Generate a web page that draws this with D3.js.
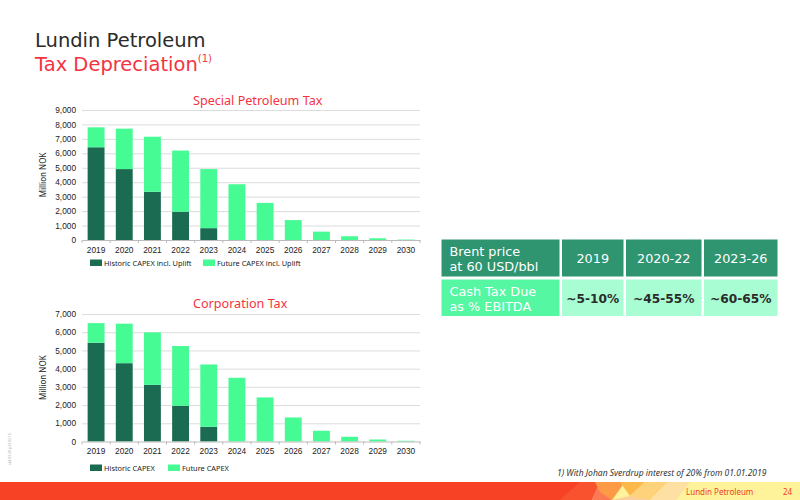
<!DOCTYPE html>
<html>
<head>
<meta charset="utf-8">
<script src="https://cdn.jsdelivr.net/npm/d3@7"></script>
<style>
  body { margin: 0; background: #fff; }
  svg { display: block; font-family: "Noto Sans", sans-serif; }
  .grid line { stroke: #dcdcdc; }
  .tick text { fill: #222; }
</style>
</head>
<body>
<div id="chart"></div>
<script>
// years on the x axis
var years = ['2019','2020','2021','2022','2023','2024','2025','2026','2027','2028','2029','2030'];

// Special Petroleum Tax, million NOK
var sptHistoric = [6420, 4910, 3340, 1960, 820, 0, 0, 0, 0, 0, 0, 0];
var sptFuture   = [1380, 2800, 3810, 4230, 4090, 3860, 2570, 1380, 580, 260, 120, 30];

// Corporation Tax, million NOK
var ctHistoric = [5420, 4300, 3110, 1960, 810, 0, 0, 0, 0, 0, 0, 0];
var ctFuture   = [1080, 2170, 2880, 3280, 3420, 3500, 2420, 1320, 590, 260, 110, 40];

var sptTicks = [0,1000,2000,3000,4000,5000,6000,7000,8000,9000];
var ctTicks  = [0,1000,2000,3000,4000,5000,6000,7000];

// table
var tableHead = [['Brent price','at 60 USD/bbl'], ['2019'], ['2020-22'], ['2023-26']];
var tableRow  = [['Cash Tax Due','as % EBITDA'], ['~5-10%'], ['~45-55%'], ['~60-65%']];

var DARK = '#1b6b52', LIGHT = '#47fb94', RED = '#f5333f';

var svg = d3.select('#chart').append('svg')
    .attr('width', 800).attr('height', 500);

// header
var head = svg.append('g').attr('font-family', '"DejaVu Sans", sans-serif');
head.append('text').attr('x', 35).attr('y', 47)
    .attr('font-size', 19.5).attr('fill', '#2b2b2b').text('Lundin Petroleum');
var sub = head.append('text').attr('x', 35).attr('y', 70.5)
    .attr('font-size', 19.5).attr('fill', RED);
sub.append('tspan').text('Tax Depreciation');
sub.append('tspan').attr('font-size', 10).attr('dy', -9).text('(1)');

drawChart({
    title: 'Special Petroleum Tax', titleX: 193, titleY: 105,
    top: 110, bottom: 240, max: 9000, ticks: sptTicks,
    hist: sptHistoric, fut: sptFuture,
    labels: ['Historic CAPEX incl. Uplift', 'Future CAPEX incl. Uplift'],
    legendY: 263, legend2X: 203
});

drawChart({
    title: 'Corporation Tax', titleX: 193, titleY: 308,
    top: 314, bottom: 441.5, max: 7000, ticks: ctTicks,
    hist: ctHistoric, fut: ctFuture,
    labels: ['Historic CAPEX', 'Future CAPEX'],
    legendY: 468, legend2X: 168
});

function drawChart(o){
    var rows = years.map((y, i) => ({year: y, hist: o.hist[i], fut: o.fut[i]}));
    var x = d3.scaleBand().domain(years).range([82, 420]).paddingInner(0.4).paddingOuter(0.2);
    var y = d3.scaleLinear().domain([0, o.max]).range([o.bottom, o.top]);

    svg.append('text').attr('x', o.titleX).attr('y', o.titleY)
        .attr('font-size', 12.6).attr('fill', RED).text(o.title);

    // gridlines + y labels
    var ga = svg.append('g').attr('class', 'grid')
        .attr('transform', 'translate(82,0)')
        .call(d3.axisLeft(y).tickValues(o.ticks).tickSize(-338).tickFormat(d3.format(',')));
    ga.select('.domain').remove();
    ga.selectAll('.tick text').attr('x', -6).attr('font-size', 8.3);
    ga.selectAll('.tick line').filter(d => d === 0).remove();

    svg.append('text')
        .attr('transform', 'translate(46,' + (o.top + o.bottom) / 2 + ') rotate(-90)')
        .attr('text-anchor', 'middle').attr('font-size', 8).attr('fill', '#222')
        .text('Million NOK');

    var stack = d3.stack().keys(['hist', 'fut'])(rows);
    svg.append('g').selectAll('g').data(stack).enter().append('g')
        .attr('fill', (d, i) => i === 0 ? DARK : LIGHT)
        .selectAll('rect').data(d => d).enter().append('rect')
        .attr('x', d => x(d.data.year))
        .attr('width', x.bandwidth())
        .attr('y', d => y(d[1]))
        .attr('height', d => y(d[0]) - y(d[1]));

    // x axis
    var xa = svg.append('g').attr('transform', 'translate(0,' + o.bottom + ')')
        .call(d3.axisBottom(x).tickSize(0).tickPadding(7));
    xa.select('.domain').attr('stroke', '#bbb');
    xa.selectAll('.tick text').attr('font-size', 8.3);
    var edges = years.map(yy => x(yy) - x.step() * x.paddingInner() / 2).concat([420]);
    xa.selectAll('line.sep').data(edges).enter().append('line').attr('class', 'sep')
        .attr('x1', d => d).attr('x2', d => d).attr('y1', 0).attr('y2', 3)
        .attr('stroke', '#bbb');

    // legend
    var lx = [90, o.legend2X];
    o.labels.forEach((t, i) => {
        svg.append('rect').attr('x', lx[i]).attr('y', o.legendY - 3.5)
            .attr('width', 12).attr('height', 6.5).attr('fill', i === 0 ? DARK : LIGHT);
        svg.append('text').attr('x', lx[i] + 14).attr('y', o.legendY + 3)
            .attr('font-size', 7.4).attr('fill', '#222').text(t);
    });
}

// table
var colX = [441.5, 562, 626, 704, 780];
var rowY = [239.5, 276.5, 279.5, 316];
var cells = [];
tableHead.forEach((t, i) => cells.push({r: 0, c: i, text: t}));
tableRow.forEach((t, i) => cells.push({r: 1, c: i, text: t}));
var tg = svg.append('g').attr('font-family', '"DejaVu Sans", sans-serif');
cells.forEach(d => {
    var x0 = colX[d.c], x1 = colX[d.c + 1] - 2.5;
    var y0 = rowY[d.r * 2], y1 = rowY[d.r * 2 + 1];
    var fill = d.r === 0 ? '#2f9470' : (d.c === 0 ? '#55f7a2' : '#a9fdd2');
    tg.append('rect').attr('x', x0).attr('y', y0).attr('width', x1 - x0).attr('height', y1 - y0).attr('fill', fill);
    var bold = d.r === 1 && d.c > 0;
    var txt = tg.append('text').attr('font-size', bold ? 12.2 : 12.8)
        .attr('fill', bold ? '#2b2b2b' : '#fff')
        .attr('font-weight', bold ? 'bold' : 'normal');
    if (d.c === 0) {
        txt.attr('x', x0 + 8).attr('text-anchor', 'start');
        d.text.forEach((line, k) => {
            txt.append('tspan').attr('x', x0 + 8).attr('y', y0 + 16.5 + k * 15).text(line);
        });
    } else {
        txt.attr('x', (x0 + x1) / 2).attr('y', (y0 + y1) / 2 + 5).attr('text-anchor', 'middle').text(d.text[0]);
    }
});

// footnote
svg.append('text').attr('x', 557).attr('y', 476).attr('font-size', 8.5)
    .attr('font-style', 'italic').attr('fill', '#333')
    .text('1) With Johan Sverdrup interest of 20% from 01.01.2019');

svg.append('text').attr('transform', 'translate(11,465) rotate(-90)')
    .attr('font-size', 3.5).attr('fill', '#aaa').text('sbf 03.20  p23.02.19');

// footer band
var foot = svg.append('g');
foot.append('rect').attr('x', 0).attr('y', 482).attr('width', 800).attr('height', 18).attr('fill', '#fef39a');
foot.append('rect').attr('x', 0).attr('y', 482).attr('width', 580).attr('height', 18).attr('fill', '#f84225');
var polys = [
    ['#f9522f', [[560,500],[580,482],[600,482],[592,500]]],
    ['#fb7a55', [[592,500],[598,486],[612,500]]],
    ['#fd9a45', [[595,482],[625,482],[612,500],[600,492]]],
    ['#fdb84a', [[620,482],[645,482],[630,496]]],
    ['#fed27a', [[625,500],[645,482],[668,482],[650,500]]],
    ['#fee0a5', [[650,500],[668,482],[690,482],[676,500]]],
    ['#fbcf98', [[612,500],[630,496],[650,500]]]
];
polys.forEach(p => foot.append('polygon').attr('points', p[1].join(' ')).attr('fill', p[0]));
foot.append('text').attr('x', 686).attr('y', 495).attr('font-size', 8).attr('fill', '#f0402a').text('Lundin Petroleum');
foot.append('text').attr('x', 783).attr('y', 495).attr('font-size', 8).attr('fill', '#f0402a').text('24');
</script>
</body>
</html>
